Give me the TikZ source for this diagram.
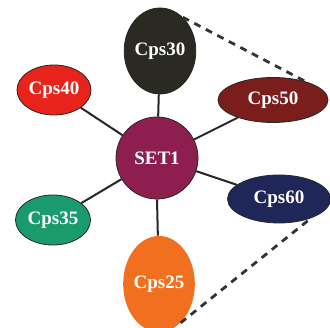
\documentclass[tikz,border=0pt]{standalone}
\usepackage{fontspec}
\setmainfont{Liberation Serif}
\usetikzlibrary{shapes.geometric}
\definecolor{cblack}{HTML}{2B2A22}
\definecolor{cred}{HTML}{E8231C}
\definecolor{cmaroon}{HTML}{7A1E1C}
\definecolor{cnavy}{HTML}{1F2658}
\definecolor{cgreen}{HTML}{1A9B6E}
\definecolor{corange}{HTML}{F0701F}
\definecolor{cset}{HTML}{8E1E50}
\definecolor{cdash}{HTML}{333333}
\begin{document}
\begin{tikzpicture}[x=1pt,y=-1pt,
  blob/.style={ellipse,draw=black!85,line width=0.8pt,text=white,inner sep=0pt,
    font=\fontsize{19}{19}\selectfont\bfseries},
  spoke/.style={line width=2pt,draw=black!85},
  dashlink/.style={line width=2.8pt,draw=cdash,dash pattern=on 7pt off 6pt}]
\useasboundingbox (0,0) rectangle (330,328);
\node[circle,draw=black!85,line width=0.8pt,fill=cset,minimum size=82pt,inner sep=0pt,
  text=white,font=\fontsize{19}{19}\selectfont\bfseries] (set) at (157,158) {SET1};
\node[blob,fill=cblack,minimum width=58pt,minimum height=86pt] (c30) at (160,51) {Cps30};
\node[blob,fill=cred,minimum width=74pt,minimum height=50pt] (c40) at (54,90) {Cps40};
\node[blob,fill=cmaroon,minimum width=110pt,minimum height=45pt] (c50) at (273,100) {Cps50};
\node[blob,fill=cnavy,minimum width=103pt,minimum height=48pt] (c60) at (279,199) {Cps60};
\node[blob,fill=cgreen,minimum width=75pt,minimum height=50pt] (c35) at (53,220) {Cps35};
\node[blob,fill=corange,draw=none,minimum width=58pt,minimum height=96pt] (c25) at (159,284) {Cps25};
\draw[spoke] (set) -- (c30);
\draw[spoke] (set) -- (c40);
\draw[spoke] (set) -- (c50);
\draw[spoke] (set) -- (c60);
\draw[spoke] (set) -- (c35);
\draw[spoke] (set.south) -- (c25);
\draw[dashlink] (c30.56) -- (c50.30);
\draw[dashlink] (c25.-61) -- (c60.-31);
\end{tikzpicture}
\end{document}
